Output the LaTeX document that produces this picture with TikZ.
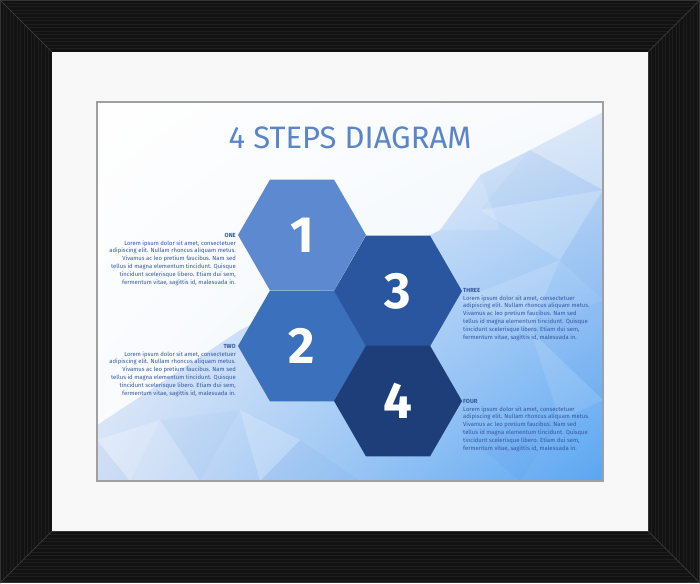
\documentclass[tikz,border=0pt]{standalone}
\usepackage{fontspec}
\setmainfont{Fira Sans}
\usetikzlibrary{shadings}
\definecolor{framebk}{HTML}{121212}
\definecolor{graincol}{HTML}{1E1E1E}
\definecolor{mitercol}{HTML}{353535}
\definecolor{matcol}{HTML}{F8F8F8}
\definecolor{pborder}{HTML}{A0A0A0}
\definecolor{hexA}{HTML}{5C89CF}
\definecolor{hexB}{HTML}{3A70BC}
\definecolor{hexC}{HTML}{2A56A0}
\definecolor{hexD}{HTML}{1E3E7A}
\definecolor{titlecol}{HTML}{5A85C8}
\definecolor{bodycol}{HTML}{3358A0}
\definecolor{bgmid}{HTML}{D4E1F6}
\definecolor{bgdeep}{HTML}{5AA6F2}
\definecolor{facetblue}{HTML}{3C7CD8}
\tikzset{
  numtext/.style={text=white, font=\bfseries\fontsize{51}{51}\selectfont, inner sep=0pt},
  blocktext/.style={text=bodycol, font=\fontsize{5.9}{7.8}\selectfont, inner sep=0pt},
  lightfacet/.style={fill=white, fill opacity=#1},
  bluefacet/.style={fill=facetblue, fill opacity=#1},
}
\newcommand{\loremtext}{Lorem ipsum dolor sit amet, consectetuer\\adipiscing elit. Nullam rhoncus aliquam metus.\\Vivamus ac leo pretium faucibus. Nam sed\\tellus id magna elementum tincidunt. Quisque\\tincidunt scelerisque libero. Etiam dui sem,\\fermentum vitae, sagittis id, malesuada in.}
\newcommand{\hexat}[2]{\fill[#2] (#1) +(0:64) -- +(60:64) -- +(120:64) -- +(180:64) -- +(240:64) -- +(300:64) -- cycle;}
\begin{document}
\begin{tikzpicture}[x=1pt,y=-1pt]
\useasboundingbox (0,0) rectangle (700,583);
% frame
\fill[framebk] (0,0) rectangle (700,583);
\foreach \d in {3,6.5,...,51} {
  \draw[graincol, line width=0.6] (\d,\d) -- (700-\d,\d);
  \draw[graincol, line width=0.6] (\d,583-\d) -- (700-\d,583-\d);
  \draw[graincol, line width=0.6] (\d,\d) -- (\d,583-\d);
  \draw[graincol, line width=0.6] (700-\d,\d) -- (700-\d,583-\d);
}
\draw[mitercol, line width=0.8] (0,0) -- (52,52) (700,0) -- (648,52) (0,583) -- (52,531) (700,583) -- (648,531);
\draw[mitercol, line width=0.8] (0.5,0.5) rectangle (699.5,582.5);
\draw[mitercol, line width=0.8] (52,52) rectangle (648,531);
% mat
\fill[matcol] (52,52) rectangle (648,531);
% picture background
\begin{scope}
\clip (97,102) rectangle (603,481);
\shade[upper left=white, upper right=bgmid, lower left=bgmid, lower right=bgdeep] (97,102) rectangle (603,481);
\fill[white, fill opacity=0.85] (97,102) -- (603,102) -- (603,112) -- (530,150) -- (480,175) -- (440,230) -- (360,270) -- (240,330) -- (150,390) -- (97,425) -- cycle;
\fill[lightfacet=0.25] (603,112) -- (530,150) -- (603,190) -- cycle;
\fill[bluefacet=0.04] (530,150) -- (480,210) -- (603,190) -- cycle;
\fill[lightfacet=0.15] (480,210) -- (603,190) -- (560,260) -- cycle;
\fill[bluefacet=0.05] (560,260) -- (603,190) -- (603,300) -- cycle;
\fill[lightfacet=0.15] (460,300) -- (560,260) -- (530,330) -- cycle;
\fill[bluefacet=0.06] (530,330) -- (603,300) -- (603,400) -- cycle;
\fill[lightfacet=0.1] (530,330) -- (603,400) -- (560,420) -- cycle;
\fill[bluefacet=0.07] (460,430) -- (560,420) -- (520,481) -- cycle;
\fill[lightfacet=0.25] (97,440) -- (160,420) -- (130,481) -- cycle;
\fill[bluefacet=0.04] (160,420) -- (240,410) -- (200,481) -- cycle;
\fill[lightfacet=0.15] (130,481) -- (160,420) -- (200,481) -- cycle;
\fill[lightfacet=0.2] (240,410) -- (300,440) -- (260,481) -- cycle;
\fill[bluefacet=0.05] (300,440) -- (360,481) -- (260,481) -- cycle;
\fill[bluefacet=0.04] (97,481) -- (97,440) -- (130,481) -- cycle;
\fill[lightfacet=0.15] (440,230) -- (480,175) -- (500,230) -- cycle;
\end{scope}
\draw[pborder, line width=1.6] (97,102) rectangle (603,481);
% title
\node[text=titlecol, font=\fontsize{31}{31}\selectfont, inner sep=0pt] (title) at (350,138) {4 STEPS DIAGRAM};
% hexagons
\hexat{302,235}{hexA}
\hexat{302,346}{hexB}
\hexat{398,291}{hexC}
\hexat{398,401}{hexD}
\node[numtext] (n1) at (302,235) {1};
\node[numtext] (n2) at (302,346) {2};
\node[numtext] (n3) at (398,291) {3};
\node[numtext] (n4) at (398,401) {4};
% text blocks
\node[blocktext, align=right, anchor=north east] (tone) at (236,233) {\textbf{ONE}\\\loremtext};
\node[blocktext, align=right, anchor=north east] (ttwo) at (236,344) {\textbf{TWO}\\\loremtext};
\node[blocktext, align=left, anchor=north west] (tthree) at (463,288) {\textbf{THREE}\\\loremtext};
\node[blocktext, align=left, anchor=north west] (tfour) at (463,399) {\textbf{FOUR}\\\loremtext};
\end{tikzpicture}
\end{document}
